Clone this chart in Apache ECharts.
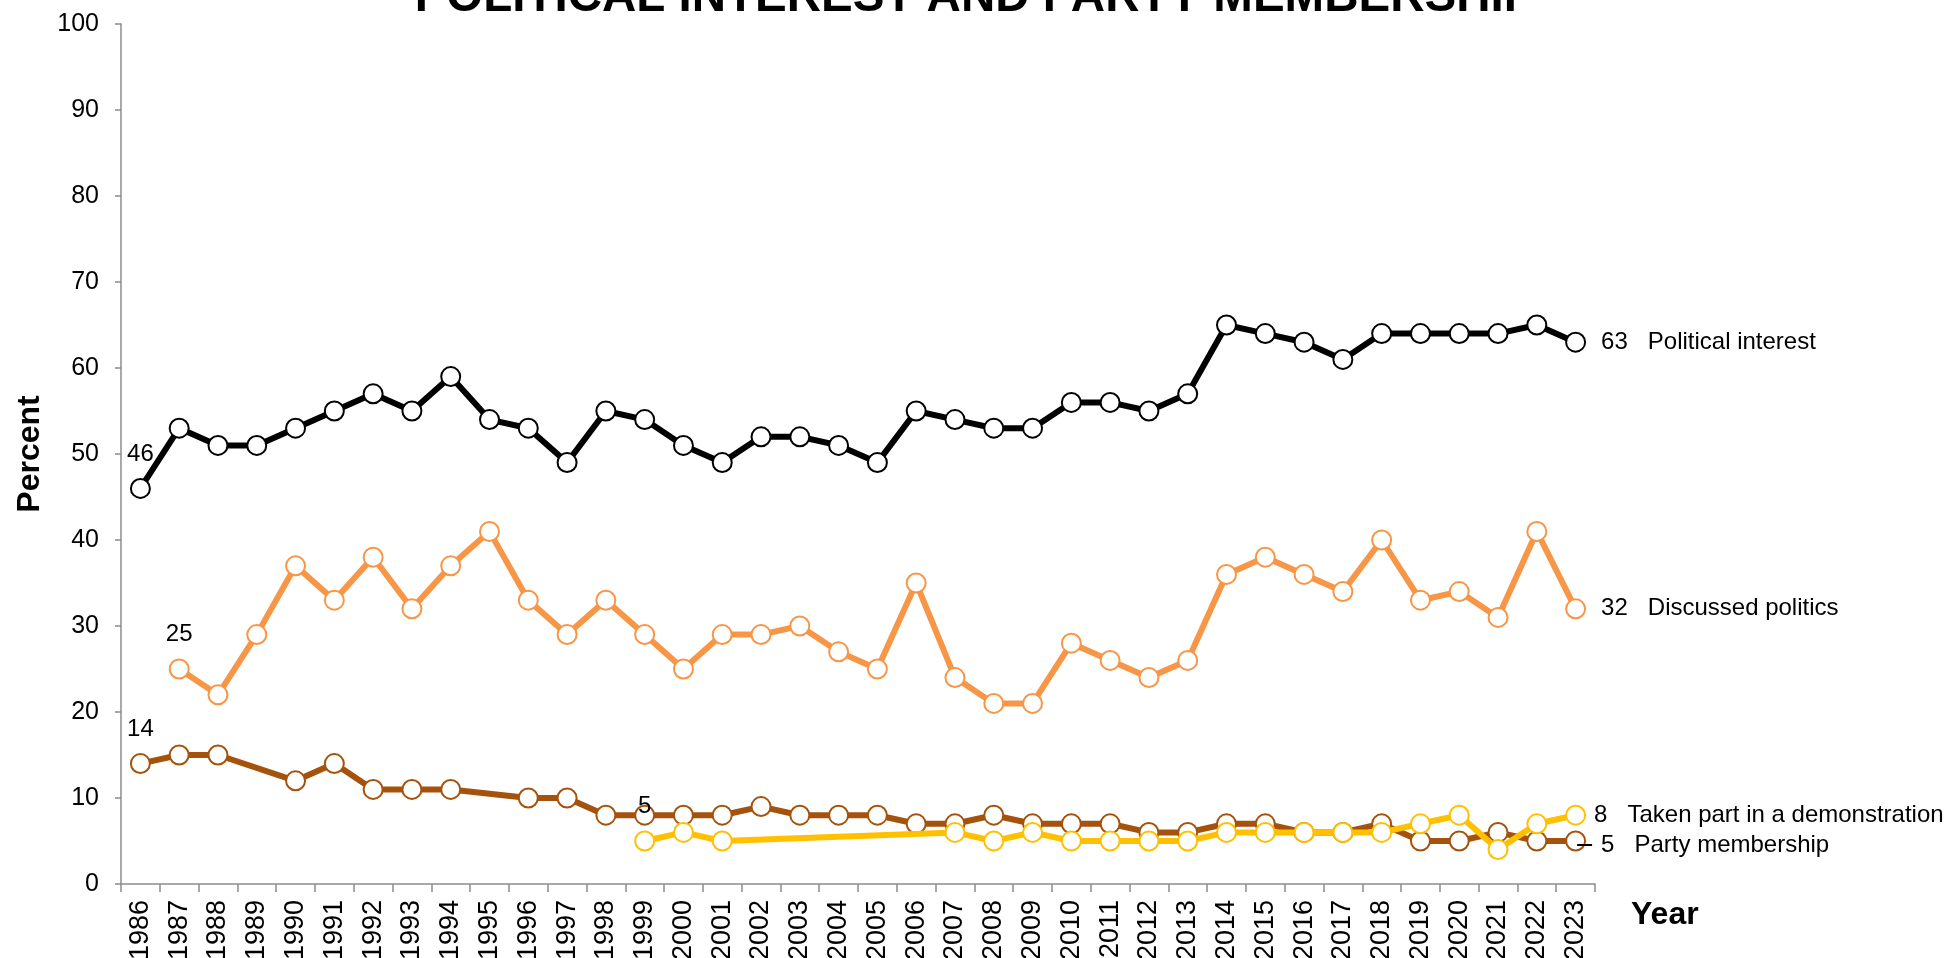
<!DOCTYPE html>
<html>
<head>
<meta charset="utf-8">
<script src="https://cdn.jsdelivr.net/npm/echarts@6/dist/echarts.min.js"></script>
<style>html,body{margin:0;padding:0;background:#fff;}#c{width:1950px;height:958px;}</style>
</head>
<body>
<div id="c"></div>
<script>
const years = ['1986','1987','1988','1989','1990','1991','1992','1993','1994','1995','1996','1997','1998','1999','2000','2001','2002','2003','2004','2005','2006','2007','2008','2009','2010','2011','2012','2013','2014','2015','2016','2017','2018','2019','2020','2021','2022','2023'];
const politicalInterest = [46,53,51,51,53,55,57,55,59,54,53,49,55,54,51,49,52,52,51,49,55,54,53,53,56,56,55,57,65,64,63,61,64,64,64,64,65,63];
const discussedPolitics = [null,25,22,29,37,33,38,32,37,41,33,29,33,29,25,29,29,30,27,25,35,24,21,21,28,26,24,26,36,38,36,34,40,33,34,31,41,32];
const partyMembership = [14,15,15,null,12,14,11,11,11,null,10,10,8,8,8,8,9,8,8,8,7,7,8,7,7,7,6,6,7,7,6,6,7,5,5,6,5,5];
const demonstration = [null,null,null,null,null,null,null,null,null,null,null,null,null,5,6,5,null,null,null,null,null,6,5,6,5,5,5,5,6,6,6,6,6,7,8,4,7,8];
const seriesNames = ['Political interest','Discussed politics','Party membership','Taken part in a demonstration'];
const seriesColors = ['#000000','#F79646','#A5520C','#FFC000'];
const yTicks = {min:0, max:100, interval:10};
const titleText = 'POLITICAL INTEREST AND PARTY MEMBERSHIP';

const FONT = 'Liberation Sans, Arial, sans-serif';
const lblBase = {show:true, fontFamily:FONT, fontSize:24, color:'#000'};

function firstIdx(vals){ return vals.findIndex(v => v !== null); }

function buildData(vals, name, endCfg) {
  const s = firstIdx(vals);
  const last = vals.length - 1;
  return vals.map((v, i) => {
    const item = {value: v};
    if (i === s) {
      item.label = Object.assign({}, lblBase, {position:'top', distance:12, formatter: String(v)});
    }
    if (i === last) {
      item.label = Object.assign({}, lblBase, endCfg(v, name));
    }
    return item;
  });
}

const endNormal = d => (v, name) => ({position:'right', distance:d, formatter: v + '   ' + name});
const endLeader = (v, name) => ({
  position:'right', distance:-9, offset:[0,4],
  formatter: '{ln| }{t|' + v + '   ' + name + '}',
  rich: {
    ln: {width:15, height:2, backgroundColor:'#000', padding:0},
    t: {fontFamily:FONT, fontSize:24, color:'#000', padding:[0,0,0,9]}
  }
});

function mkSeries(vals, idx, endCfg, z) {
  return {
    type:'line', name: seriesNames[idx], z: z,
    data: buildData(vals, seriesNames[idx], endCfg),
    connectNulls: true,
    symbol:'circle', symbolSize:19,
    showAllSymbol:true,
    lineStyle:{color: seriesColors[idx], width:6},
    itemStyle:{color:'#ffffff', borderColor: seriesColors[idx], borderWidth:2},
    emphasis:{disabled:true},
    animation:false
  };
}

const chart = echarts.init(document.getElementById('c'), null, {renderer:'canvas'});
chart.setOption({
  backgroundColor:'#ffffff',
  animation:false,
  title:{
    text: titleText, left:'center', top:-31,
    textStyle:{fontFamily:FONT, fontSize:47.5, fontWeight:'bold', color:'#000'}
  },
  grid:{left:121, right:355, top:24, bottom:74, containLabel:false, outerBoundsMode:'none'},
  xAxis:{
    type:'category', data: years, boundaryGap:true,
    axisLine:{lineStyle:{color:'#8c8c8c', width:1.5}},
    axisTick:{show:true, length:8, alignWithLabel:false, lineStyle:{color:'#8c8c8c', width:1.5}},
    axisLabel:{rotate:90, interval:0, margin:16, fontFamily:FONT, fontSize:27, color:'#000'},
    name:'Year', nameLocation:'end', nameGap:36,
    nameTextStyle:{fontFamily:FONT, fontSize:32, fontWeight:'bold', color:'#000', verticalAlign:'top', padding:[15,0,0,0]}
  },
  yAxis:{
    type:'value', min:yTicks.min, max:yTicks.max, interval:yTicks.interval,
    splitLine:{show:false},
    axisLine:{show:true, lineStyle:{color:'#8c8c8c', width:1.5}},
    axisTick:{show:true, length:6, lineStyle:{color:'#8c8c8c', width:1.5}},
    axisLabel:{margin:22, fontFamily:FONT, fontSize:25, color:'#000'},
    name:'Percent', nameLocation:'middle', nameGap:73, nameRotate:90,
    nameTextStyle:{fontFamily:FONT, fontSize:32, fontWeight:'bold', color:'#000'}
  },
  series:[
    mkSeries(politicalInterest, 0, endNormal(15), 2),
    mkSeries(discussedPolitics, 1, endNormal(15), 3),
    mkSeries(partyMembership, 2, endLeader, 4),
    mkSeries(demonstration, 3, endNormal(8), 5)
  ]
});
</script>
</body>
</html>
